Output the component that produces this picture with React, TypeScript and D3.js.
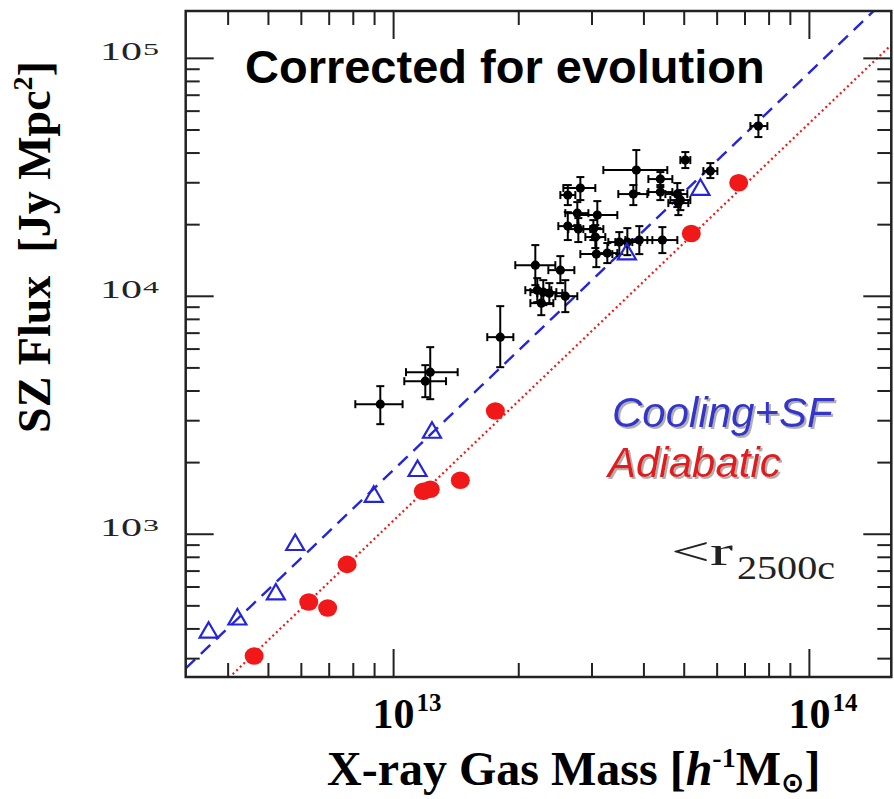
import React from 'react';
import * as d3 from 'd3';

// Observed clusters: X-ray gas mass (units of 1e13 h^-1 Msun) and SZ flux (Jy Mpc^2), with error ranges
const obsMass = [0.929, 1.225, 1.192, 1.805, 2.192, 2.518, 2.216, 2.291, 2.369, 2.266, 2.588, 2.624, 2.813, 2.766, 3.09, 2.624, 2.782, 3.023, 3.056, 3.073, 3.266, 3.49, 3.649, 3.899, 4.43, 3.835, 3.772, 4.381, 4.381, 4.813, 4.894, 4.84, 5.031, 5.779, 7.54];
const obsMassLo = [0.809, 1.071, 1.061, 1.68, 1.962, 2.356, 2.074, 2.133, 2.216, 2.133, 2.449, 2.518, 2.56, 2.588, 2.766, 2.49, 2.632, 2.86, 2.892, 2.813, 3.073, 3.284, 3.414, 3.609, 4.076, 3.195, 3.471, 4.1, 4.1, 4.504, 4.63, 4.579, 4.894, 5.559, 7.213];
const obsMassHi = [1.051, 1.426, 1.337, 1.941, 2.449, 2.721, 2.395, 2.463, 2.546, 2.422, 2.766, 2.736, 3.056, 2.941, 3.452, 2.782, 2.973, 3.195, 3.23, 3.358, 3.452, 3.751, 3.922, 4.191, 4.813, 4.553, 4.076, 4.682, 4.682, 5.087, 5.172, 5.115, 5.172, 6.008, 7.924];
const obsFlux = [3520, 4799, 4398, 6735, 13520, 12880, 10610, 10410, 10310, 9360, 10010, 26640, 28500, 22360, 21940, 19720, 19160, 19160, 17740, 15040, 15190, 16900, 16900, 17230, 17230, 33920, 26890, 31090, 27420, 26890, 25370, 24640, 37360, 33590, 51930];
const obsFluxLo = [2901, 3694, 3767, 5036, 11140, 11360, 9450, 9180, 9270, 8330, 8580, 24170, 25370, 19910, 19340, 17230, 16900, 17230, 15950, 13260, 13790, 15040, 14890, 15040, 15190, 27160, 24170, 28780, 25370, 23710, 23020, 21940, 34580, 31390, 46680];
const obsFluxHi = [4191, 6112, 5135, 9090, 16410, 14750, 11920, 11690, 11360, 10410, 11690, 29340, 31700, 24880, 25120, 22580, 21310, 20900, 19910, 17570, 16740, 18610, 19340, 19720, 19530, 41170, 29340, 33270, 29340, 29910, 27950, 26640, 40380, 36290, 57760];

// Simulated clusters
const coolMass = [0.359, 0.421, 0.521, 0.58, 0.896, 1.142, 1.237, 3.64, 5.47];
const coolFlux = [395, 449, 572, 923, 1472, 1889, 2735, 15380, 28710];
const adiMass = [0.462, 0.625, 0.694, 0.773, 1.179, 1.225, 1.447, 1.757, 5.2, 6.76];
const adiFlux = [308, 519, 490, 747, 1516, 1546, 1687, 3296, 18370, 29990];

// Power-law fits: flux = norm * (mass / 1e13)^slope
const fitNames = ['Cooling+SF', 'Adiabatic'];
const fitNorms = [1866, 1143];
const fitSlopes = [1.67, 1.67];

// Axis ticks
const xMajorTicks = [1, 10];
const xMajorExp = ['13', '14'];
const yMajorTicks = [1e3, 1e4, 1e5];
const yMajorExp = ['3', '4', '5'];

const W = 894;
const H = 799;
const L = 185.7, R = 891.3, T = 11, B = 677;

const BLUE = '#2424dc';
const RED = '#f01818';

export default function App() {
  const x = d3.scaleLog().domain([Math.pow(10, -0.5), Math.pow(10, 1.197)]).range([L, R]);
  const y = d3.scaleLog().domain([Math.pow(10, 2.4), Math.pow(10, 5.199)]).range([B, T]);

  const [x0, x1] = x.domain();
  const [y0, y1] = y.domain();

  const xMinor: number[] = [];
  for (let e = -1; e <= 1; e++) for (let k = 1; k <= 9; k++) {
    const v = k * Math.pow(10, e);
    if (v >= x0 && v <= x1) xMinor.push(v);
  }
  const yMinor: number[] = [];
  for (let e = 2; e <= 5; e++) for (let k = 1; k <= 9; k++) {
    const v = k * Math.pow(10, e);
    if (v >= y0 && v <= y1) yMinor.push(v);
  }
  const isMajor = (v: number) => Math.abs(Math.log10(v) - Math.round(Math.log10(v))) < 1e-9;

  const fitPath = (fi: number) => {
    const ms = d3.range(0, 101).map((i) => x0 * Math.pow(x1 / x0, i / 100));
    return d3.line<number>().x((m) => x(m)).y((m) => y(fitNorms[fi] * Math.pow(m, fitSlopes[fi])))(ms) || '';
  };

  const tri = (cx: number, cy: number) => `M${cx},${cy - 8}L${cx + 9},${cy + 7.5}L${cx - 9},${cy + 7.5}Z`;
  const cap = 4;

  return (
    <svg width={W} height={H} style={{ position: 'absolute', left: 0, top: 0, background: '#fff' }}>
      <defs>
        <clipPath id="plotclip">
          <rect x={L} y={T} width={R - L} height={B - T} />
        </clipPath>
        <filter id="shadow" x="-5%" y="-10%" width="115%" height="130%">
          <feDropShadow dx={2} dy={2} stdDeviation={0.6} floodColor="#a8a8a8" floodOpacity={0.9} />
        </filter>
      </defs>
      <rect x={0} y={0} width={W} height={H} fill="#fff" />

      {/* fit lines */}
      <g clipPath="url(#plotclip)">
        <path d={fitPath(0)} fill="none" stroke={BLUE} strokeWidth={2.4} strokeDasharray="13,8" />
        <path d={fitPath(1)} fill="none" stroke={RED} strokeWidth={2.2} strokeDasharray="2,3" />
      </g>

      {/* observed clusters with error bars */}
      <g stroke="#000" strokeWidth={2}>
        {obsMass.map((m, i) => {
          const cx = x(m), cy = y(obsFlux[i]);
          const xl = x(obsMassLo[i]), xh = x(obsMassHi[i]);
          const yl = y(obsFluxLo[i]), yh = y(obsFluxHi[i]);
          return (
            <g key={'o' + i}>
              <line x1={xl} y1={cy} x2={xh} y2={cy} />
              <line x1={cx} y1={yl} x2={cx} y2={yh} />
              <line x1={xl} y1={cy - cap} x2={xl} y2={cy + cap} />
              <line x1={xh} y1={cy - cap} x2={xh} y2={cy + cap} />
              <line x1={cx - cap} y1={yl} x2={cx + cap} y2={yl} />
              <line x1={cx - cap} y1={yh} x2={cx + cap} y2={yh} />
            </g>
          );
        })}
      </g>
      <g fill="#000">
        {obsMass.map((m, i) => (
          <circle key={'od' + i} cx={x(m)} cy={y(obsFlux[i])} r={4.6} />
        ))}
      </g>

      {/* simulated: cooling+SF triangles */}
      <g fill="none" stroke={BLUE} strokeWidth={2.2}>
        {coolMass.map((m, i) => (
          <path key={'c' + i} d={tri(x(m), y(coolFlux[i]))} />
        ))}
      </g>
      {/* simulated: adiabatic circles */}
      <g fill={RED}>
        {adiMass.map((m, i) => (
          <ellipse key={'a' + i} cx={x(m)} cy={y(adiFlux[i])} rx={9.5} ry={8.8} />
        ))}
      </g>

      {/* ticks */}
      <g stroke="#222" strokeWidth={2}>
        {xMinor.map((v, i) => {
          const len = isMajor(v) ? 28 : 14;
          const px = x(v);
          return (
            <g key={'xt' + i}>
              <line x1={px} y1={B} x2={px} y2={B - len} />
              <line x1={px} y1={T} x2={px} y2={T + len} />
            </g>
          );
        })}
        {yMinor.map((v, i) => {
          const len = isMajor(v) ? 28 : 14;
          const py = y(v);
          return (
            <g key={'yt' + i}>
              <line x1={L} y1={py} x2={L + len} y2={py} />
              <line x1={R} y1={py} x2={R - len} y2={py} />
            </g>
          );
        })}
      </g>
      <rect x={L} y={T} width={R - L} height={B - T} fill="none" stroke="#222" strokeWidth={2.5} />

      {/* x tick labels */}
      <g fontFamily="'Liberation Serif', serif" fontWeight="bold" fill="#000">
        {xMajorTicks.map((v, i) => (
          <g key={'xl' + i}>
            <text x={x(v)} y={728} fontSize={42} textAnchor="middle">10</text>
            <text x={x(v) + 23} y={711} fontSize={25}>{xMajorExp[i]}</text>
          </g>
        ))}
      </g>

      {/* y tick labels */}
      <g fontFamily="'Liberation Serif', serif" fill="#222">
        {yMajorTicks.map((v, i) => (
          <g key={'yl' + i}>
            <text x={100} y={y(v) + 2} fontSize={25} textLength={42} lengthAdjust="spacingAndGlyphs">10</text>
            <text x={143} y={y(v) - 3.5} fontSize={16} textLength={16} lengthAdjust="spacingAndGlyphs">{yMajorExp[i]}</text>
          </g>
        ))}
      </g>

      {/* axis titles */}
      <text x={327} y={785} fontFamily="'Liberation Serif', serif" fontWeight="bold" fontSize={48} fill="#000">
        X-ray Gas Mass [<tspan fontStyle="italic">h</tspan>
        <tspan dy={-18} fontSize={28}>-1</tspan>
        <tspan dy={18}>M</tspan>
        <tspan dy={7} fontSize={28} fontFamily="'DejaVu Sans', sans-serif">⊙</tspan>
        <tspan dy={-7}>]</tspan>
      </text>
      <text transform="translate(50,247) rotate(-90)" textAnchor="middle" fontFamily="'Liberation Serif', serif" fontWeight="bold" fontSize={46} fill="#000" style={{ whiteSpace: 'pre' }}>
        {'SZ Flux  [Jy Mpc'}<tspan dy={-18} fontSize={28}>2</tspan><tspan dy={18}>]</tspan>
      </text>

      {/* annotations */}
      <text x={245} y={83} fontFamily="'Liberation Sans', Arial, sans-serif" fontWeight="bold" fontSize={47} fill="#000">Corrected for evolution</text>

      <g fontFamily="'Liberation Sans', Arial, sans-serif" fontStyle="italic" fontSize={42} filter="url(#shadow)">
        <text x={612} y={427} fill="#3535c8">{fitNames[0]}</text>
        <text x={608} y={477} fill="#e01c1c">{fitNames[1]}</text>
      </g>

      <g fontFamily="'Liberation Serif', serif" fill="#222">
        <text x={671} y={565} fontSize={40} textLength={62} lengthAdjust="spacingAndGlyphs">&lt;r</text>
        <text x={737} y={579} fontSize={34} textLength={98} lengthAdjust="spacingAndGlyphs">2500c</text>
      </g>
    </svg>
  );
}
